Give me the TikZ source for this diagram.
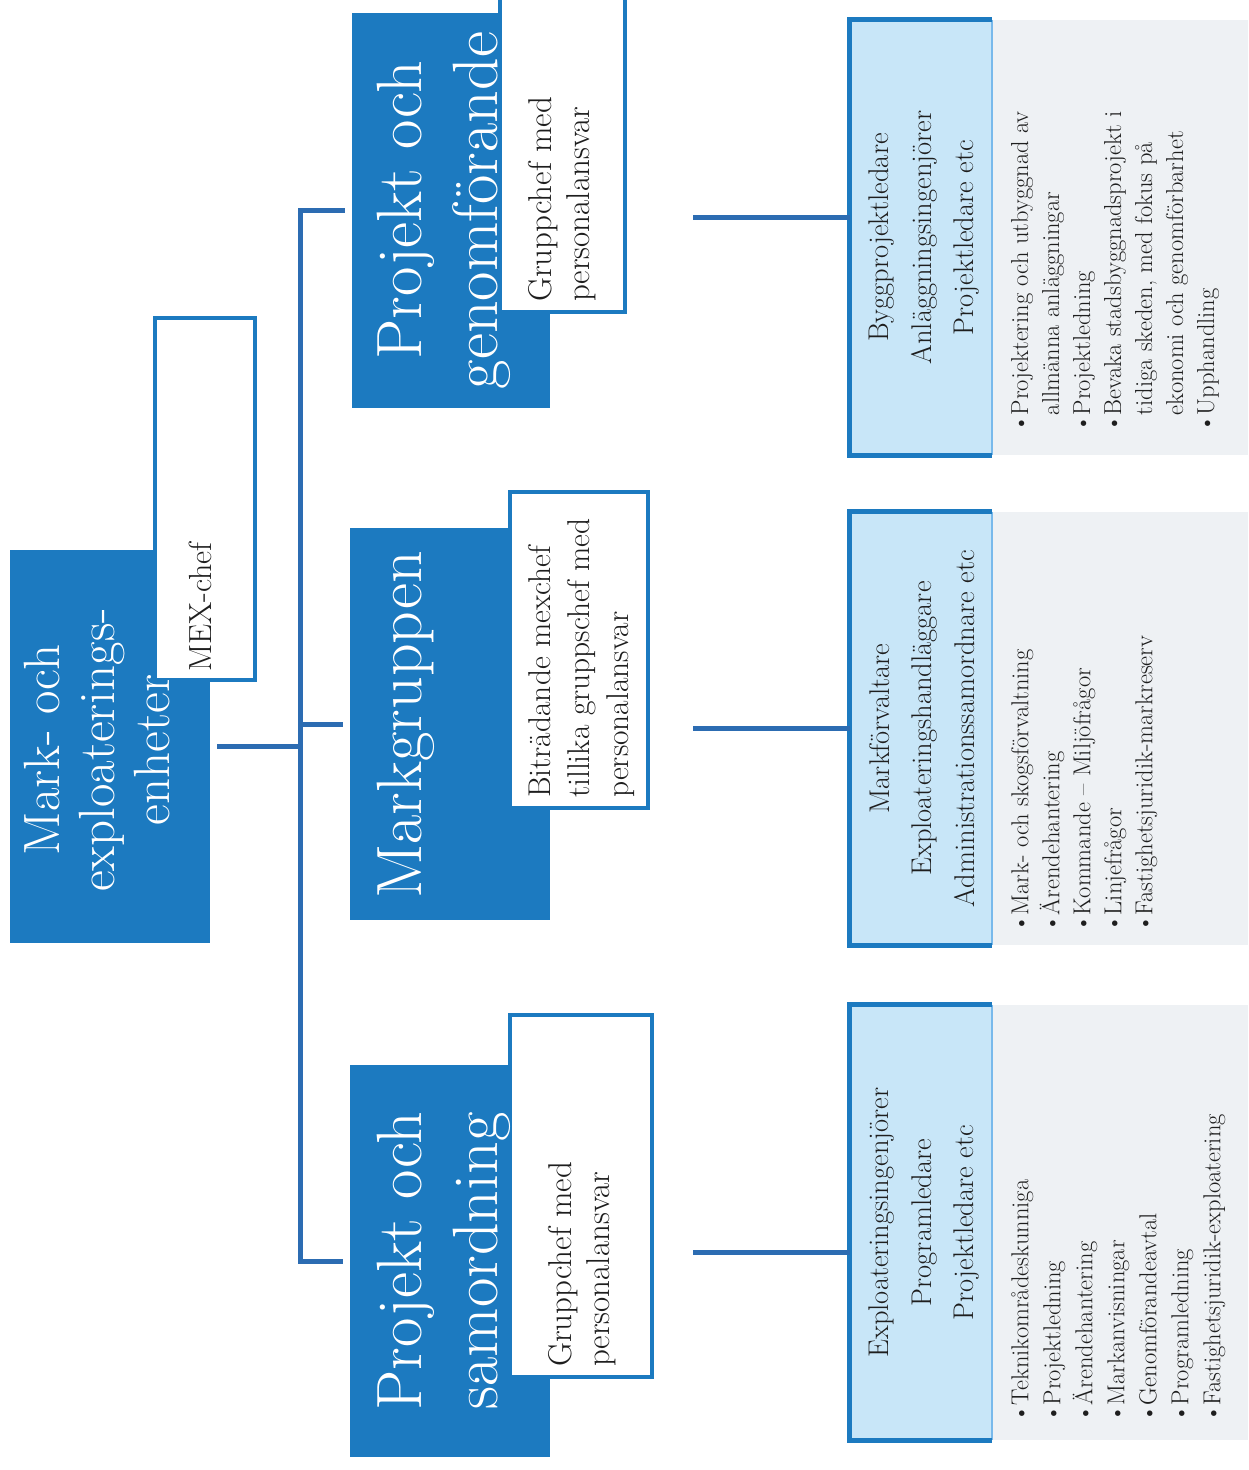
\documentclass[tikz,border=0pt]{standalone}
\usepackage{fontspec}
\definecolor{dblue}{RGB}{28,122,192}
\definecolor{lnblue}{RGB}{44,108,178}
\definecolor{lfill}{RGB}{200,230,248}
\definecolor{lside}{RGB}{120,185,235}
\definecolor{panel}{RGB}{238,241,244}
\definecolor{txt}{RGB}{30,30,30}
\begin{document}
\begin{tikzpicture}[x=1pt,y=-1pt,
  blk/.style={fill=dblue,draw=none,inner sep=0,rectangle},
  wbox/.style={fill=white,draw=dblue,line width=4pt,inner sep=0,rectangle},
  lbox/.style={fill=lfill,draw=none,inner sep=0,rectangle},
  pbox/.style={fill=panel,draw=none,inner sep=0,rectangle},
  conn/.style={draw=lnblue,line width=5pt},
  ttl/.style={rotate=90,text=white,align=center,inner sep=0,font=\fontsize{64}{76}\selectfont},
  subt/.style={rotate=90,text=txt,align=left,inner sep=0,font=\fontsize{33}{38}\selectfont},
  lbt/.style={rotate=90,text=txt,align=center,inner sep=0,font=\fontsize{28.5}{42.5}\selectfont},
  bul/.style={rotate=90,text=txt,align=left,inner sep=0,font=\fontsize{24.5}{31}\selectfont}]
\path[use as bounding box,clip] (0,0) rectangle (1248,1470);
\fill[white] (0,0) rectangle (1248,1470);
% root
\node[blk,minimum width=200pt,minimum height=393pt] (root) at (110,746.5) {};
\node[wbox,minimum width=100pt,minimum height=362pt] (mex) at (205,499) {};
\node[ttl,font=\fontsize{51}{55}\selectfont,anchor=north] (roott) at (24,750) {Mark- och\\exploaterings-\\enheter};
\node[subt,anchor=north west,font=\fontsize{32}{38}\selectfont] (mext) at (189,672) {MEX-chef};
% groups
\node[blk,minimum width=198pt,minimum height=395pt] (g1) at (451,210.5) {};
\node[wbox,minimum width=125pt,minimum height=317pt] (w1) at (562.5,153.5) {};
\node[blk,minimum width=200pt,minimum height=392pt] (g2) at (450,724) {};
\node[wbox,minimum width=138pt,minimum height=316pt] (w2) at (579,650) {};
\node[blk,minimum width=200pt,minimum height=392pt] (g3) at (450,1261) {};
\node[wbox,minimum width=142pt,minimum height=362pt] (w3) at (581,1196) {};
\node[ttl,anchor=north] (g1t) at (377,210.5) {Projekt och\\genomförande};
\node[ttl,anchor=north] (g2t) at (377,725) {Markgruppen};
\node[ttl,anchor=north] (g3t) at (377,1261) {Projekt och\\samordning};
\node[subt,anchor=north west] (w1t) at (528,302) {Gruppchef med\\personalansvar};
\node[subt,anchor=north west,font=\fontsize{31.5}{39}\selectfont] (w2t) at (528,798) {Biträdande mexchef\\tillika gruppschef med\\personalansvar};
\node[subt,anchor=north west] (w3t) at (548,1367) {Gruppchef med\\personalansvar};
% connectors left
\coordinate (tr) at (300,0);
\draw[conn] ([xshift=7pt]root.east) -- (root.east -| tr);
\draw[conn] ([xshift=-7pt]g1.west) -- (g1.west -| tr) -- (g3.west -| tr) -- ([xshift=-7pt]g3.west);
\draw[conn] (g2.west -| tr) -- ([xshift=-7pt]g2.west);
% panels and light boxes
\foreach \n/\c/\h in {1/237.5/435,2/728.5/433,3/1222.5/435}{
  \node[pbox,minimum width=256pt,minimum height=\h pt] (p\n) at (1120,\c) {};
  \node[lbox,minimum width=142pt,minimum height=\h pt] (lb\n) at (921,\c) {};
  \draw[draw=lside,line width=2pt] (lb\n.north east) -- (lb\n.south east);
  \draw[draw=dblue,line width=5pt] (lb\n.north east) -- (lb\n.north west) -- (lb\n.south west) -- (lb\n.south east);
}
% connectors right
\coordinate (c1) at (693,217);
\coordinate (c2) at (693,728);
\coordinate (c3) at (693,1252);
\draw[conn] (c1) -- (c1 -| lb1.west);
\draw[conn] (c2) -- (c2 -| lb2.west);
\draw[conn] (c3) -- (c3 -| lb3.west);
% light box texts
\node[lbt,anchor=north] (lb1t) at (869,237.5) {Byggprojektledare\\Anläggningsingenjörer\\Projektledare etc};
\node[lbt,anchor=north] (lb2t) at (869,728.5) {Markförvaltare\\Exploateringshandläggare\\Administrationssamordnare etc};
\node[lbt,anchor=north] (lb3t) at (869,1222.5) {Exploateringsingenjörer\\Programledare\\Projektledare etc};
% bullets
\newcommand{\bu}{\textbullet}
\newcommand{\bi}{\phantom{\textbullet}}
\node[bul,anchor=north west] (b1) at (1011,433) {\bu Projektering och utbyggnad av\\\bi allmänna anläggningar\\\bu Projektledning\\\bu Bevaka stadsbyggnadsprojekt i\\\bi tidiga skeden, med fokus på\\\bi ekonomi och genomförbarhet\\\bu Upphandling};
\node[bul,anchor=north west] (b2) at (1011,933) {\bu Mark- och skogsförvaltning\\\bu Ärendehantering\\\bu Kommande -- Miljöfrågor\\\bu Linjefrågor\\\bu Fastighetsjuridik-markreserv};
\node[bul,anchor=north west,font=\fontsize{24.5}{32}\selectfont] (b3) at (1011,1423) {\bu Teknikområdeskunniga\\\bu Projektledning\\\bu Ärendehantering\\\bu Markanvisningar\\\bu Genomförandeavtal\\\bu Programledning\\\bu Fastighetsjuridik-exploatering};
\end{tikzpicture}
\end{document}
